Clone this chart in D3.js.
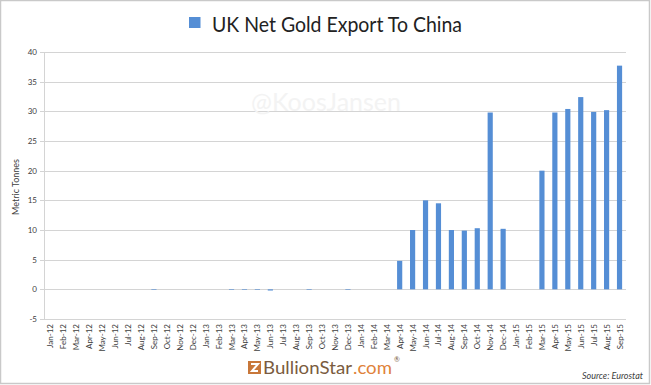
<!DOCTYPE html>
<html><head><meta charset="utf-8">
<script src="https://cdn.jsdelivr.net/npm/d3@7/dist/d3.min.js"></script>
<style>body{margin:0;background:#fff}svg{display:block}text{font-family:Lato,"Open Sans",sans-serif}</style>
</head><body>
<script>
const months = ["Jan-12","Feb-12","Mar-12","Apr-12","May-12","Jun-12","Jul-12","Aug-12","Sep-12","Oct-12","Nov-12","Dec-12",
"Jan-13","Feb-13","Mar-13","Apr-13","May-13","Jun-13","Jul-13","Aug-13","Sep-13","Oct-13","Nov-13","Dec-13",
"Jan-14","Feb-14","Mar-14","Apr-14","May-14","Jun-14","Jul-14","Aug-14","Sep-14","Oct-14","Nov-14","Dec-14",
"Jan-15","Feb-15","Mar-15","Apr-15","May-15","Jun-15","Jul-15","Aug-15","Sep-15"];
const netExport = [0,0,0,0,0,0,0,0,-0.1,0,0,0,
0,0,-0.1,-0.1,-0.1,-0.2,0,0,-0.1,0,0,-0.1,
0,0,0,4.8,10.0,15.0,14.5,10.0,9.9,10.3,29.8,10.2,
0,0,20.0,29.8,30.4,32.4,29.9,30.2,37.7];
const yTicks = [-5,0,5,10,15,20,25,30,35,40];
const chartTitle = "UK Net Gold Export To China";
const yLabel = "Metric Tonnes";

const W=651,H=385;
const svg=d3.select("body").append("svg").attr("width",W).attr("height",H);
svg.append("rect").attr("x",0.5).attr("y",0.5).attr("width",649).attr("height",383)
  .attr("fill","#fff").attr("stroke","#c9c9c9").attr("stroke-width",1.5);

const pL=44,pR=626,pT=52,pB=319;
const x=d3.scaleBand().domain(months).range([pL,pR]).paddingInner(0.6).paddingOuter(0.3);
const y=d3.scaleLinear().domain([-5,40]).range([pB,pT]);

// gridlines
svg.append("g").selectAll("line").data(yTicks).join("line")
  .attr("x1",pL-4).attr("x2",pR).attr("y1",d=>Math.round(y(d))+0.5).attr("y2",d=>Math.round(y(d))+0.5)
  .attr("stroke","#d4d4d4").attr("stroke-width",1);
svg.append("line").attr("x1",pL+0.5).attr("x2",pL+0.5).attr("y1",pT).attr("y2",pB+1)
  .attr("stroke","#d4d4d4");

// watermark
svg.append("text").attr("x",326).attr("y",111).attr("text-anchor","middle")
  .attr("font-size",25).attr("fill","#f3f3f3").text("@KoosJansen");

// y tick labels
svg.append("g").selectAll("text").data(yTicks).join("text")
  .attr("x",37).attr("y",d=>y(d)+3).attr("text-anchor","end")
  .attr("font-size",8).attr("fill","#404040").text(d=>d);

// bars
svg.append("g").selectAll("rect").data(months).join("rect")
  .attr("x",(d)=>x(d)).attr("width",x.bandwidth())
  .attr("y",(d,i)=>Math.min(y(netExport[i]),y(0)))
  .attr("height",(d,i)=>Math.abs(y(netExport[i])-y(0)))
  .attr("fill","#558ED5");

// x labels
svg.append("g").selectAll("text").data(months).join("text")
  .attr("transform",d=>`translate(${x(d)+x.bandwidth()/2+3},324) rotate(-90)`)
  .attr("text-anchor","end").attr("font-size",8).attr("fill","#404040").text(d=>d);

// y axis label
svg.append("text").attr("transform","translate(19,187) rotate(-90)").attr("text-anchor","middle")
  .attr("font-size",9).attr("fill","#404040").text(yLabel);

// title + legend
svg.append("rect").attr("x",189).attr("y",17).attr("width",11.5).attr("height",11).attr("fill","#558ED5");
svg.append("text").attr("x",212).attr("y",31.5).attr("font-size",21).attr("fill","#222")
  .attr("textLength",250).attr("lengthAdjust","spacingAndGlyphs").text(chartTitle);

// logo
const lg=svg.append("g");
lg.append("rect").attr("x",248).attr("y",361).attr("width",13).attr("height",13).attr("fill","#c8773a");
lg.append("path").attr("d","M251,364 L258,364 L252,371 L258,371").attr("fill","none").attr("stroke","#fff").attr("stroke-width",2);
lg.append("text").attr("x",263).attr("y",373.5).attr("font-size",18).attr("fill","#7a5b40")
  .attr("textLength",89).attr("lengthAdjust","spacingAndGlyphs").text("BullionStar");
lg.append("text").attr("x",353).attr("y",373.5).attr("font-size",18).attr("fill","#e0823a")
  .attr("textLength",39).attr("lengthAdjust","spacingAndGlyphs").text(".com");
lg.append("text").attr("x",394).attr("y",362).attr("font-size",7).attr("fill","#7a5b40").text("®");

// source
svg.append("text").attr("x",643).attr("y",379).attr("text-anchor","end").attr("font-size",9)
  .attr("font-style","italic").attr("fill","#404040").text("Source: Eurostat");
</script>
</body></html>
